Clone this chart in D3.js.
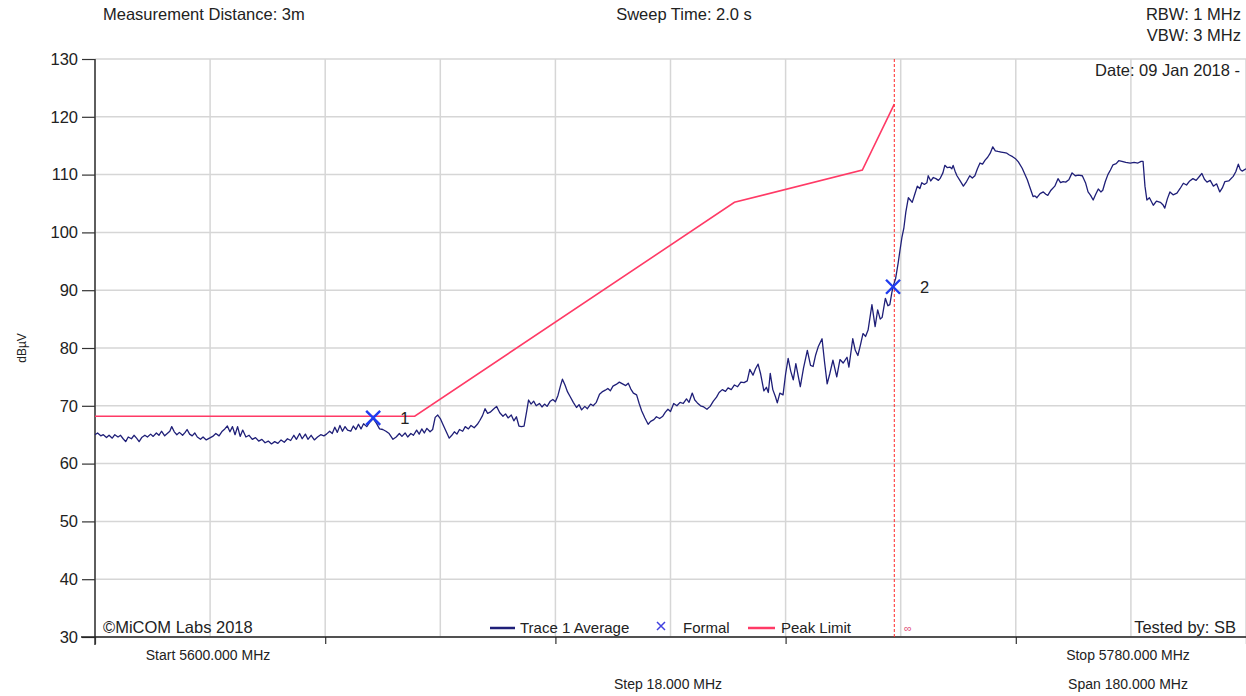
<!DOCTYPE html>
<html>
<head>
<meta charset="utf-8">
<script src="https://cdn.jsdelivr.net/npm/d3@7"></script>
<style>
  body { margin: 0; background: #fff; }
  svg { display: block; font-family: "Liberation Sans", Arial, sans-serif; }
</style>
</head>
<body>
<div id="wrapper"></div>
<script>
// ---- data ----
const yTicks = [30, 40, 50, 60, 70, 80, 90, 100, 110, 120, 130]
const gridMHz = [5600, 5618, 5636, 5654, 5672, 5690, 5708, 5726, 5744, 5762, 5780]
const tickMHz = [5600, 5636, 5672, 5708, 5744, 5780]

// Peak limit (MHz, dBuV)
const limitPoints = [[5600, 68.2], [5650, 68.2], [5700, 105.2], [5720, 110.8], [5725, 122.2]]
const bandEdgeMHz = 5725

// Markers
const markers = [
  { label: "1", mhz: 5643.5, level: 67.9 },
  { label: "2", mhz: 5724.8, level: 90.6 },
]

// Trace 1 Average (MHz, dBuV)
const tracePoints = [
  [5600.0,65.0],[5600.4,65.3],[5600.9,64.8],[5601.3,65.0],[5601.8,64.5],[5602.2,64.9],[5602.7,64.4],[5603.1,65.0],
  [5603.6,64.6],[5604.0,64.9],[5604.4,64.3],[5604.8,63.8],[5605.2,64.6],[5605.7,64.3],[5606.1,64.9],[5606.5,64.4],
  [5606.9,63.8],[5607.3,64.5],[5607.8,64.9],[5608.2,64.6],[5608.7,65.1],[5609.1,64.7],[5609.6,65.3],[5610.0,64.9],
  [5610.4,65.6],[5610.9,64.8],[5611.3,65.2],[5611.7,65.6],[5612.0,66.4],[5612.4,65.5],[5612.8,65.0],[5613.2,65.4],
  [5613.7,64.9],[5614.1,65.4],[5614.4,65.9],[5614.8,65.1],[5615.2,64.8],[5615.6,65.3],[5616.0,64.6],[5616.5,64.2],
  [5616.9,64.6],[5617.4,64.1],[5617.9,64.4],[5618.4,64.7],[5618.9,65.2],[5619.4,64.8],[5619.9,65.6],[5620.3,66.0],
  [5620.7,66.5],[5621.1,65.5],[5621.5,66.4],[5621.9,65.0],[5622.3,66.4],[5622.7,64.7],[5623.1,65.8],[5623.6,64.6],
  [5624.1,64.9],[5624.6,64.2],[5625.1,64.5],[5625.6,63.9],[5626.1,64.2],[5626.6,63.6],[5627.1,63.9],[5627.6,63.4],
  [5628.1,63.8],[5628.6,63.5],[5629.1,64.1],[5629.6,63.7],[5630.1,64.3],[5630.6,64.0],[5631.1,64.9],[5631.5,64.2],
  [5632.0,65.2],[5632.4,64.3],[5632.9,65.1],[5633.3,64.2],[5633.8,64.9],[5634.3,64.1],[5634.8,64.6],[5635.3,65.0],
  [5635.8,64.8],[5636.2,65.1],[5636.7,65.6],[5637.1,65.2],[5637.5,66.3],[5637.9,65.4],[5638.3,66.6],[5638.7,65.6],
  [5639.1,66.4],[5639.5,65.8],[5640.0,65.6],[5640.4,66.5],[5640.8,65.9],[5641.2,66.8],[5641.6,66.0],[5642.0,66.9],
  [5642.5,66.4],[5643.0,67.2],[5643.5,67.8],[5644.0,67.0],[5644.5,66.0],[5645.0,65.9],[5645.5,65.6],[5646.0,65.2],
  [5646.6,64.2],[5647.1,64.6],[5647.6,65.2],[5648.0,64.7],[5648.5,65.3],[5648.9,64.6],[5649.4,65.2],[5649.8,64.9],
  [5650.3,65.8],[5650.7,65.1],[5651.1,66.0],[5651.5,65.3],[5651.9,66.1],[5652.4,65.5],[5652.8,65.9],[5653.2,68.0],
  [5653.6,68.4],[5654.0,67.8],[5654.4,66.8],[5654.9,65.6],[5655.4,64.4],[5655.8,64.9],[5656.2,65.5],[5656.6,65.1],
  [5657.0,65.9],[5657.5,65.6],[5657.9,66.4],[5658.4,66.0],[5658.8,66.6],[5659.3,66.2],[5659.8,66.8],[5660.2,67.5],
  [5660.6,68.3],[5661.0,69.5],[5661.4,68.7],[5661.8,68.9],[5662.3,69.4],[5662.8,69.9],[5663.3,68.8],[5663.8,68.2],
  [5664.2,68.6],[5664.6,67.9],[5665.1,68.4],[5665.5,67.4],[5665.9,68.1],[5666.3,66.5],[5666.7,66.4],[5667.1,66.5],
  [5667.5,69.0],[5667.8,71.0],[5668.2,70.3],[5668.6,70.8],[5669.0,70.0],[5669.5,70.4],[5669.9,69.8],[5670.3,70.3],
  [5670.7,69.9],[5671.2,70.8],[5671.6,71.1],[5672.0,70.7],[5672.4,71.8],[5672.8,73.5],[5673.1,74.6],[5673.5,73.6],
  [5673.9,72.4],[5674.3,71.6],[5674.8,70.6],[5675.3,69.7],[5675.7,70.2],[5676.1,69.3],[5676.6,69.9],[5677.0,69.5],
  [5677.5,70.3],[5677.9,70.0],[5678.4,70.6],[5678.9,72.0],[5679.3,72.4],[5679.8,72.7],[5680.2,73.0],[5680.6,72.6],
  [5681.0,73.4],[5681.5,73.7],[5682.0,74.1],[5682.5,73.8],[5683.0,73.5],[5683.4,73.9],[5683.8,72.9],[5684.2,72.2],
  [5684.7,71.9],[5685.1,70.4],[5685.5,69.1],[5686.0,67.9],[5686.5,66.8],[5686.9,67.3],[5687.4,67.6],[5687.8,68.1],
  [5688.3,67.8],[5688.8,68.2],[5689.2,68.9],[5689.6,69.4],[5690.0,69.0],[5690.5,70.4],[5691.0,70.0],[5691.5,70.6],
  [5692.0,70.4],[5692.5,71.2],[5692.9,70.6],[5693.4,72.2],[5693.8,71.0],[5694.2,70.5],[5694.7,70.0],[5695.2,69.8],
  [5695.7,69.4],[5696.2,69.9],[5696.7,70.8],[5697.2,71.5],[5697.6,72.3],[5698.1,72.8],[5698.6,72.5],[5699.0,73.1],
  [5699.5,72.8],[5700.0,73.6],[5700.5,73.3],[5701.0,74.1],[5701.5,74.0],[5702.0,74.3],[5702.4,76.3],[5702.9,75.3],
  [5703.3,76.4],[5703.7,77.2],[5704.1,75.5],[5704.6,72.6],[5705.0,73.2],[5705.3,72.3],[5705.6,75.6],[5706.0,72.8],
  [5706.4,71.6],[5706.7,70.5],[5707.1,72.2],[5707.6,71.9],[5708.0,75.5],[5708.4,78.2],[5708.8,76.0],[5709.2,74.5],
  [5709.6,77.3],[5710.0,75.0],[5710.3,73.3],[5710.8,76.5],[5711.4,79.6],[5711.9,77.0],[5712.3,76.8],[5712.7,78.8],
  [5713.1,80.2],[5713.7,81.6],[5714.1,77.5],[5714.5,73.8],[5714.9,75.5],[5715.4,77.9],[5716.0,75.0],[5716.5,78.0],
  [5717.0,77.4],[5717.6,78.4],[5717.9,76.7],[5718.5,81.6],[5718.9,79.6],[5719.3,78.7],[5719.7,80.5],[5720.1,82.5],
  [5720.5,82.0],[5720.9,83.1],[5721.5,87.5],[5722.0,83.7],[5722.4,86.6],[5722.8,85.0],[5723.1,85.3],[5723.6,88.6],
  [5724.0,87.3],[5724.3,87.5],[5724.6,89.5],[5724.8,90.6],[5725.2,92.0],[5725.6,94.7],[5725.9,97.0],[5726.2,99.2],
  [5726.5,100.8],[5726.8,103.5],[5727.2,106.0],[5727.5,105.6],[5727.8,105.2],[5728.2,106.6],[5728.6,108.0],[5729.0,107.6],
  [5729.3,108.6],[5729.7,108.3],[5730.1,108.6],[5730.3,109.8],[5730.7,108.9],[5731.1,109.5],[5731.5,109.3],[5731.9,109.0],
  [5732.2,109.4],[5732.6,110.3],[5732.9,111.6],[5733.3,111.2],[5733.7,111.3],[5734.0,111.0],[5734.2,111.6],[5734.5,110.6],
  [5734.8,109.8],[5735.3,108.9],[5735.8,108.0],[5736.3,108.8],[5736.8,109.8],[5737.2,109.4],[5737.6,109.8],[5738.0,111.0],
  [5738.4,112.0],[5738.8,111.8],[5739.2,112.5],[5739.6,113.0],[5740.0,113.7],[5740.4,114.8],[5740.8,114.1],[5741.2,114.0],
  [5741.7,113.9],[5742.2,113.8],[5742.6,113.7],[5743.0,113.4],[5743.5,113.1],[5743.9,112.8],[5744.4,112.2],[5745.0,111.1],
  [5745.4,110.1],[5745.8,109.1],[5746.2,107.8],[5746.7,106.2],[5747.0,106.3],[5747.3,106.0],[5747.8,106.7],[5748.3,107.0],
  [5748.7,106.6],[5749.0,106.4],[5749.5,107.3],[5750.1,108.0],[5750.6,109.3],[5751.0,108.6],[5751.4,108.8],[5751.8,108.7],
  [5752.3,109.1],[5752.8,110.3],[5753.3,109.8],[5753.8,109.9],[5754.4,109.8],[5754.9,108.6],[5755.3,107.0],[5755.7,106.4],
  [5756.1,105.6],[5756.5,106.6],[5756.9,107.5],[5757.3,107.0],[5757.6,107.3],[5758.0,108.8],[5758.4,110.0],[5758.8,110.8],
  [5759.2,111.7],[5759.7,111.9],[5760.1,112.4],[5760.6,112.3],[5761.2,112.1],[5761.9,112.0],[5762.5,112.1],[5763.1,112.0],
  [5763.6,112.3],[5763.9,112.3],[5764.2,108.0],[5764.5,105.6],[5764.9,106.0],[5765.5,104.7],[5766.0,105.4],[5766.6,105.2],
  [5767.0,104.8],[5767.3,104.2],[5767.7,105.8],[5768.1,107.0],[5768.6,106.5],[5769.2,106.8],[5769.7,107.6],[5770.2,108.5],
  [5770.7,108.2],[5771.2,108.9],[5771.7,109.3],[5772.2,109.0],[5772.8,109.8],[5773.1,110.2],[5773.5,109.2],[5773.9,108.7],
  [5774.4,109.0],[5774.9,108.0],[5775.4,108.4],[5775.9,107.0],[5776.3,107.7],[5776.7,108.8],[5777.3,108.9],[5778.0,109.7],
  [5778.4,110.5],[5778.8,111.8],[5779.1,110.9],[5779.4,110.6],[5780.0,111.0],
]

function drawChart() {
  const width = 1246
  const height = 696
  const plot = { left: 95, right: 1246, top: 59, bottom: 637 }

  const traceColor = "#1f1f78"
  const limitColor = "#ff3a66"
  const markerColor = "#1f3cf0"
  const gridColor = "#d6d6d6"
  const textColor = "#222"

  const svg = d3.select("#wrapper")
    .append("svg")
      .attr("width", width)
      .attr("height", height)

  const xScale = d3.scaleLinear()
    .domain([5600, 5780])
    .range([plot.left, plot.right])

  const yScale = d3.scaleLinear()
    .domain([30, 130])
    .range([plot.bottom, plot.top])

  // grid
  svg.append("g")
    .selectAll("line")
    .data(yTicks)
    .enter().append("line")
      .attr("x1", plot.left)
      .attr("x2", plot.right)
      .attr("y1", d => yScale(d))
      .attr("y2", d => yScale(d))
      .attr("stroke", gridColor)
      .attr("stroke-width", 1.5)

  svg.append("g")
    .selectAll("line")
    .data(gridMHz)
    .enter().append("line")
      .attr("x1", d => xScale(d))
      .attr("x2", d => xScale(d))
      .attr("y1", plot.top)
      .attr("y2", plot.bottom)
      .attr("stroke", gridColor)
      .attr("stroke-width", 1.5)

  // axes
  const yAxis = svg.append("g")
      .attr("transform", `translate(${plot.left},0)`)
      .call(d3.axisLeft(yScale).tickValues(yTicks).tickSize(13).tickPadding(4))
  yAxis.select(".domain").remove()
  yAxis.append("line")
      .attr("x1", 0).attr("x2", 0)
      .attr("y1", plot.top).attr("y2", plot.bottom + 8)
      .attr("stroke", "#333").attr("stroke-width", 1.5)
  yAxis.selectAll(".tick line").attr("stroke", "#333").attr("stroke-width", 1.2)
  yAxis.selectAll(".tick text")
      .attr("fill", textColor)
      .style("font-size", "16.5px")
      .style("font-family", "Liberation Sans, Arial, sans-serif")

  const xAxis = svg.append("g")
      .attr("transform", `translate(0,${plot.bottom})`)
      .call(d3.axisBottom(xScale).tickValues(tickMHz).tickSize(7).tickFormat(""))
  xAxis.select(".domain").remove()
  xAxis.append("line")
      .attr("x1", plot.left - 14).attr("x2", plot.right)
      .attr("y1", 0).attr("y2", 0)
      .attr("stroke", "#222").attr("stroke-width", 1.5)
  xAxis.selectAll(".tick line").attr("stroke", "#333").attr("stroke-width", 1.2)

  // y label
  svg.append("text")
      .attr("transform", "translate(26,348) rotate(-90)")
      .attr("text-anchor", "middle")
      .attr("fill", textColor)
      .style("font-size", "12px")
      .text("dBµV")

  // limit line
  const line = d3.line()
    .x(d => xScale(d[0]))
    .y(d => yScale(d[1]))

  svg.append("path")
      .datum(limitPoints)
      .attr("d", line)
      .attr("fill", "none")
      .attr("stroke", limitColor)
      .attr("stroke-width", 1.6)

  // band edge
  svg.append("line")
      .attr("x1", xScale(bandEdgeMHz)).attr("x2", xScale(bandEdgeMHz))
      .attr("y1", plot.top).attr("y2", plot.bottom)
      .attr("stroke", "#ff2a2a")
      .attr("stroke-width", 1)
      .attr("stroke-dasharray", "3,2")

  // trace
  svg.append("path")
      .datum(tracePoints)
      .attr("d", line)
      .attr("fill", "none")
      .attr("stroke", traceColor)
      .attr("stroke-width", 1.3)
      .attr("stroke-linejoin", "round")

  // markers
  const m = svg.append("g")
    .selectAll("g")
    .data(markers)
    .enter().append("g")
      .attr("transform", d => `translate(${xScale(d.mhz)},${yScale(d.level)})`)
  m.append("path")
      .attr("d", "M-7,-7L7,7M-7,7L7,-7")
      .attr("stroke", markerColor)
      .attr("stroke-width", 2.4)
  m.append("text")
      .attr("x", 27)
      .attr("y", 6)
      .attr("text-anchor", "start")
      .attr("fill", textColor)
      .style("font-size", "16.5px")
      .text(d => d.label)

  // header texts
  const header = [
    { text: "Measurement Distance: 3m", x: 103, y: 20, anchor: "start" },
    { text: "Sweep Time: 2.0 s", x: 684, y: 20, anchor: "middle" },
    { text: "RBW: 1 MHz", x: 1241, y: 20, anchor: "end" },
    { text: "VBW: 3 MHz", x: 1241, y: 41, anchor: "end" },
    { text: "Date: 09 Jan 2018 -", x: 1240, y: 76, anchor: "end" },
    { text: "©MiCOM Labs 2018", x: 103, y: 633, anchor: "start" },
    { text: "Tested by: SB", x: 1236, y: 633, anchor: "end" },
  ]
  svg.append("g")
    .selectAll("text")
    .data(header)
    .enter().append("text")
      .attr("x", d => d.x)
      .attr("y", d => d.y)
      .attr("text-anchor", d => d.anchor)
      .attr("fill", textColor)
      .style("font-size", "16.5px")
      .text(d => d.text)

  // bottom annotations
  const footer = [
    { text: "Start 5600.000 MHz", x: 208, y: 660 },
    { text: "Stop 5780.000 MHz", x: 1128, y: 660 },
    { text: "Step 18.000 MHz", x: 668, y: 689 },
    { text: "Span 180.000 MHz", x: 1128, y: 689 },
  ]
  svg.append("g")
    .selectAll("text")
    .data(footer)
    .enter().append("text")
      .attr("x", d => d.x)
      .attr("y", d => d.y)
      .attr("text-anchor", "middle")
      .attr("fill", textColor)
      .style("font-size", "14px")
      .text(d => d.text)

  // legend
  const legend = svg.append("g").attr("transform", "translate(0,633)")
  legend.append("line")
      .attr("x1", 490).attr("x2", 515).attr("y1", -5).attr("y2", -5)
      .attr("stroke", traceColor).attr("stroke-width", 2.5)
  legend.append("text").attr("x", 520).attr("y", 0).text("Trace 1 Average")
  legend.append("path")
      .attr("d", "M657,-11L665,-3M657,-3L665,-11")
      .attr("stroke", "#4040e0").attr("stroke-width", 1.5)
  legend.append("text").attr("x", 683).attr("y", 0).text("Formal")
  legend.append("line")
      .attr("x1", 748).attr("x2", 775).attr("y1", -5).attr("y2", -5)
      .attr("stroke", limitColor).attr("stroke-width", 2.5)
  legend.append("text").attr("x", 781).attr("y", 0).text("Peak Limit")
  legend.append("text").attr("x", 904).attr("y", -1)
      .attr("fill", "#e0507a").style("font-size", "11px").text("∞")
  legend.selectAll("text:not([fill])")
      .attr("fill", textColor)
      .style("font-size", "15px")
}
drawChart()
</script>
</body>
</html>
